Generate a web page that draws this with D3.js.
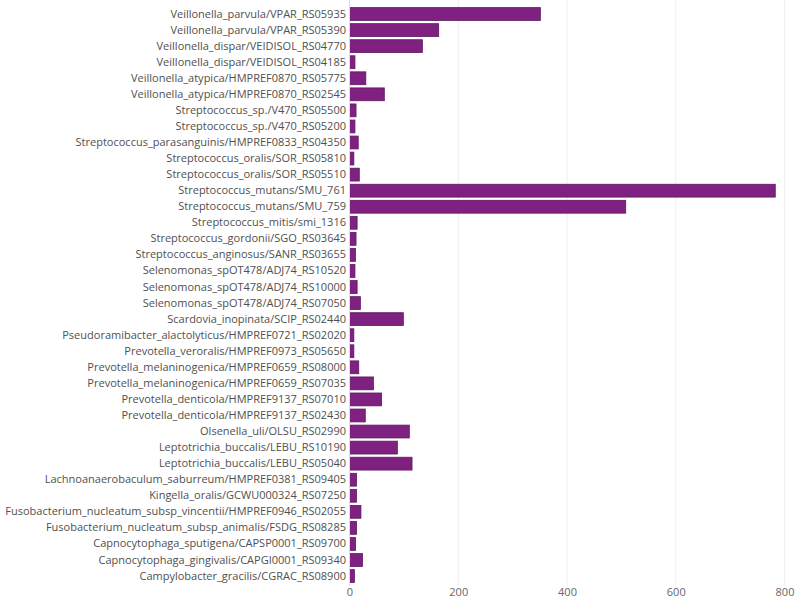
<!DOCTYPE html>
<html>
<head>
<meta charset="utf-8">
<script src="https://cdn.jsdelivr.net/npm/d3@7"></script>
<style>
  html, body { margin: 0; padding: 0; background: #fff; }
  svg { display: block; }
</style>
</head>
<body>
<svg id="chart" width="800" height="601"></svg>
<script>
const categories = [
  "Veillonella_parvula/VPAR_RS05935",
  "Veillonella_parvula/VPAR_RS05390",
  "Veillonella_dispar/VEIDISOL_RS04770",
  "Veillonella_dispar/VEIDISOL_RS04185",
  "Veillonella_atypica/HMPREF0870_RS05775",
  "Veillonella_atypica/HMPREF0870_RS02545",
  "Streptococcus_sp./V470_RS05500",
  "Streptococcus_sp./V470_RS05200",
  "Streptococcus_parasanguinis/HMPREF0833_RS04350",
  "Streptococcus_oralis/SOR_RS05810",
  "Streptococcus_oralis/SOR_RS05510",
  "Streptococcus_mutans/SMU_761",
  "Streptococcus_mutans/SMU_759",
  "Streptococcus_mitis/smi_1316",
  "Streptococcus_gordonii/SGO_RS03645",
  "Streptococcus_anginosus/SANR_RS03655",
  "Selenomonas_spOT478/ADJ74_RS10520",
  "Selenomonas_spOT478/ADJ74_RS10000",
  "Selenomonas_spOT478/ADJ74_RS07050",
  "Scardovia_inopinata/SCIP_RS02440",
  "Pseudoramibacter_alactolyticus/HMPREF0721_RS02020",
  "Prevotella_veroralis/HMPREF0973_RS05650",
  "Prevotella_melaninogenica/HMPREF0659_RS08000",
  "Prevotella_melaninogenica/HMPREF0659_RS07035",
  "Prevotella_denticola/HMPREF9137_RS07010",
  "Prevotella_denticola/HMPREF9137_RS02430",
  "Olsenella_uli/OLSU_RS02990",
  "Leptotrichia_buccalis/LEBU_RS10190",
  "Leptotrichia_buccalis/LEBU_RS05040",
  "Lachnoanaerobaculum_saburreum/HMPREF0381_RS09405",
  "Kingella_oralis/GCWU000324_RS07250",
  "Fusobacterium_nucleatum_subsp_vincentii/HMPREF0946_RS02055",
  "Fusobacterium_nucleatum_subsp_animalis/FSDG_RS08285",
  "Capnocytophaga_sputigena/CAPSP0001_RS09700",
  "Capnocytophaga_gingivalis/CAPGI0001_RS09340",
  "Campylobacter_gracilis/CGRAC_RS08900"
];
const values = [
  351, 164, 134, 10, 30, 64, 12, 10, 16, 8, 18, 783, 508, 14, 12, 11, 10, 14,
  20, 99, 8, 8, 17, 44, 59, 29, 110, 88, 115, 13, 13, 21, 13, 11, 24, 9
];
const xTicks = [0, 200, 400, 600, 800];

const svg = d3.select("#chart");
const x = d3.scaleLinear().domain([0, 800]).range([349.5, 784.5]);
const y = d3.scaleBand().domain(categories).range([2.8, 587.3])
  .paddingInner(0.2).paddingOuter(0.3);

// gridlines
svg.append("g").selectAll("line").data(xTicks.filter(d => d > 0)).join("line")
  .attr("x1", d => x(d)).attr("x2", d => x(d))
  .attr("y1", 0).attr("y2", 586)
  .attr("stroke", "#eeeeee").attr("stroke-width", 1);

// bars
svg.append("g").selectAll("rect").data(categories).join("rect")
  .attr("x", x(0))
  .attr("y", d => y(d))
  .attr("width", (d, i) => x(values[i]) - x(0))
  .attr("height", y.bandwidth())
  .attr("fill", "#7f2181")
  .attr("stroke", "#5e1862")
  .attr("stroke-width", 0.8);

// zero line
svg.append("line")
  .attr("x1", x(0)).attr("x2", x(0))
  .attr("y1", 0).attr("y2", 586)
  .attr("stroke", "#e6d6ea").attr("stroke-width", 1);

// y labels
const yAxis = d3.axisLeft(y).tickSize(0).tickPadding(3);
const gy = svg.append("g").attr("transform", `translate(${x(0) - 0.5},0)`).call(yAxis);
gy.select(".domain").remove();
gy.selectAll("text")
  .attr("font-family", "'Open Sans', sans-serif")
  .attr("font-size", "11px")
  .attr("fill", "#505050");

// x axis labels
const xAxis = d3.axisBottom(x).tickValues(xTicks).tickSize(0).tickPadding(0);
const gx = svg.append("g").attr("transform", "translate(0,588)").call(xAxis);
gx.select(".domain").remove();
gx.selectAll("text")
  .attr("font-family", "'Open Sans', sans-serif")
  .attr("font-size", "11px")
  .attr("fill", "#666");
</script>
</body>
</html>
